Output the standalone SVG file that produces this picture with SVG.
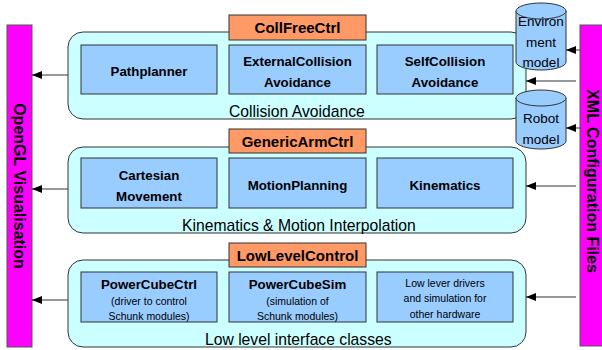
<svg xmlns="http://www.w3.org/2000/svg" width="602" height="350" viewBox="0 0 602 350">
<defs>
<marker id="ah" markerWidth="10" markerHeight="8" refX="10" refY="4" orient="auto" markerUnits="userSpaceOnUse">
<path d="M0,0 L10,4 L0,8 Z" fill="#000"/>
</marker>
<style>
text{font-family:"Liberation Sans",Arial,sans-serif;fill:#000}
.bar{fill:#ff00ff;stroke:#555;stroke-width:1}
.cont{fill:#ccffff;stroke:#333;stroke-width:1}
.box{fill:#99ccff;stroke:#333;stroke-width:1}
.hdr{fill:#ff9966;stroke:#333;stroke-width:1}
.cyl{fill:#99ccff;stroke:#333;stroke-width:1}
.b{font-weight:bold;font-size:13.3px;text-anchor:middle}
.h{font-weight:bold;font-size:15px;text-anchor:middle}
.s{font-size:10.5px;text-anchor:middle}
.lbl{font-size:15.7px}
.vt{font-weight:bold;font-size:16px;text-anchor:middle}
.c{font-size:13.5px;text-anchor:middle}
.con{stroke:#333;stroke-width:1;fill:none}
</style>
</defs>

<g id="opengl">
<rect class="bar" x="7" y="25" width="25" height="322"/>
<text class="vt" transform="translate(14,186) rotate(90)">OpenGL Visualisation</text>
</g>
<g id="xml">
<rect class="bar" x="580" y="25" width="25" height="321"/>
<text class="vt" transform="translate(587,181) rotate(90)">XML Configuration Files</text>
</g>

<g id="collision-layer">
<rect class="cont" x="68" y="32" width="458" height="87" rx="15"/>
<text class="lbl" x="229" y="117">Collision Avoidance</text>
</g>
<g id="kinematics-layer">
<rect class="cont" x="68" y="147" width="458" height="86" rx="15"/>
<text class="lbl" x="182" y="231">Kinematics &amp; Motion Interpolation</text>
</g>
<g id="lowlevel-layer">
<rect class="cont" x="68" y="260" width="458" height="87" rx="15"/>
<text class="lbl" x="205" y="345">Low level interface classes</text>
</g>

<g id="collfreectrl">
<rect class="hdr" x="229" y="15" width="137" height="25"/>
<text class="h" x="297.5" y="33">CollFreeCtrl</text>
</g>
<g id="genericarmctrl">
<rect class="hdr" x="229" y="129" width="137" height="24"/>
<text class="h" x="297.5" y="147">GenericArmCtrl</text>
</g>
<g id="lowlevelcontrol">
<rect class="hdr" x="229" y="243" width="137" height="24"/>
<text class="h" x="297.5" y="261">LowLevelControl</text>
</g>

<g id="pathplanner">
<rect class="box" x="81" y="45" width="136" height="49"/>
<text class="b" x="149" y="76">Pathplanner</text>
</g>
<g id="externalcollision">
<rect class="box" x="229" y="45" width="137" height="49"/>
<text class="b" x="297.5" y="66">ExternalCollision</text>
<text class="b" x="297.5" y="87">Avoidance</text>
</g>
<g id="selfcollision">
<rect class="box" x="377" y="45" width="136" height="49"/>
<text class="b" x="445" y="66">SelfCollision</text>
<text class="b" x="445" y="87">Avoidance</text>
</g>

<g id="cartesian">
<rect class="box" x="81" y="158" width="136" height="50"/>
<text class="b" x="149" y="180">Cartesian</text>
<text class="b" x="149" y="201">Movement</text>
</g>
<g id="motionplanning">
<rect class="box" x="229" y="158" width="137" height="50"/>
<text class="b" x="297.5" y="190">MotionPlanning</text>
</g>
<g id="kinematics">
<rect class="box" x="377" y="158" width="136" height="50"/>
<text class="b" x="445" y="190">Kinematics</text>
</g>

<g id="powercubectrl">
<rect class="box" x="81" y="272" width="136" height="50"/>
<text class="b" x="149" y="289">PowerCubeCtrl</text>
<text class="s" x="149" y="305">(driver to control</text>
<text class="s" x="149" y="320">Schunk modules)</text>
</g>
<g id="powercubesim">
<rect class="box" x="229" y="272" width="137" height="50"/>
<text class="b" x="297.5" y="289">PowerCubeSim</text>
<text class="s" x="297.5" y="305">(simulation of</text>
<text class="s" x="297.5" y="320">Schunk modules)</text>
</g>
<g id="lowleveldrivers">
<rect class="box" x="377" y="272" width="136" height="50"/>
<text class="s" x="445" y="287">Low lever drivers</text>
<text class="s" x="445" y="302">and simulation for</text>
<text class="s" x="445" y="318">other hardware</text>
</g>

<g id="environment-model">
<path class="cyl" d="M516,11 L516,62 A25,8 0 0 0 566,62 L566,11 A25,8 0 0 0 516,11 Z"/>
<path class="cyl" d="M516,11 A25,8 0 0 0 566,11"/>
<text class="c" x="541" y="26">Environ</text>
<text class="c" x="541" y="47">ment</text>
<text class="c" x="541" y="67">model</text>
</g>
<g id="robot-model">
<path class="cyl" d="M516,98 L516,141 A25,8 0 0 0 566,141 L566,98 A25,8 0 0 0 516,98 Z"/>
<path class="cyl" d="M516,98 A25,8 0 0 0 566,98"/>
<text class="c" x="541" y="123">Robot</text>
<text class="c" x="541" y="144">model</text>
</g>

<g id="connectors">
<line class="con" x1="68" y1="75" x2="32" y2="75" marker-end="url(#ah)"/>
<line class="con" x1="68" y1="189" x2="32" y2="189" marker-end="url(#ah)"/>
<line class="con" x1="68" y1="300" x2="32" y2="300" marker-end="url(#ah)"/>
<line class="con" x1="580" y1="50" x2="566" y2="50" marker-end="url(#ah)"/>
<line class="con" x1="576" y1="81" x2="526" y2="81" marker-end="url(#ah)"/>
<line class="con" x1="580" y1="128" x2="566" y2="128" marker-end="url(#ah)"/>
<line class="con" x1="576" y1="186" x2="526" y2="186" marker-end="url(#ah)"/>
<line class="con" x1="576" y1="297" x2="526" y2="297" marker-end="url(#ah)"/>
</g>
</svg>
